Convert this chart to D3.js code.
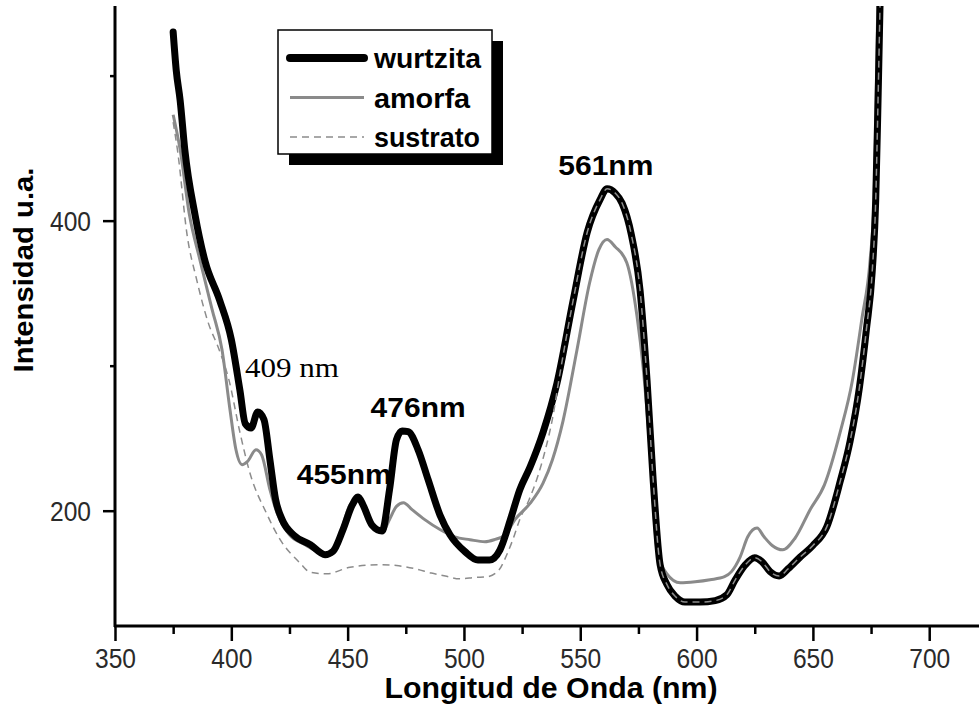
<!DOCTYPE html>
<html>
<head>
<meta charset="utf-8">
<script src="https://cdn.jsdelivr.net/npm/d3@7"></script>
<style>
  html, body { margin: 0; padding: 0; background: #fff; }
  svg { display: block; }
  text { font-family: "Liberation Sans", Arial, sans-serif; }
</style>
</head>
<body>
<svg id="chart" width="979" height="717"></svg>
<script>
// Photoluminescence spectra: wavelength (nm) vs intensity (a.u.)
const wurtzita = [
  [375, 530], [376.3, 504], [378, 483], [380, 449], [384.4, 404], [388.7, 372],
  [395, 345], [400, 318], [403.7, 283], [406, 260], [408.5, 257], [411.3, 268],
  [414, 263], [416.6, 235], [419, 208], [421.8, 194], [427, 183], [434, 176.5],
  [440.3, 169.7], [443.7, 172], [448, 187], [452, 204], [454.5, 209.5], [456.6, 204],
  [460.5, 190], [464.8, 186], [468, 214.5], [471, 249], [473.4, 255], [476, 254.5],
  [480.3, 242], [484.6, 221.4], [489.7, 197], [494, 183.4], [500.5, 171.7], [506, 166],
  [511, 166], [515.5, 173], [520, 194], [524, 214.5], [528.4, 230], [534, 254],
  [540, 288], [547, 345.5], [553, 392], [558.5, 414.5], [561.5, 422], [565, 419],
  [568, 412], [572, 390], [575.7, 352], [578.7, 290], [581.3, 222], [584.3, 163],
  [587.3, 149], [590.8, 141], [595, 137], [601.5, 137], [608, 138], [613, 142],
  [616.5, 152], [621, 162.8], [625, 167.6], [628, 165], [631.6, 158], [635.5, 155],
  [639.4, 160], [644.5, 168], [650, 176], [656, 189], [661.7, 220], [666, 248],
  [670, 285], [673, 325], [675.5, 365], [677, 414], [678, 483], [679, 560], [680, 640]
];

const amorfa = [
  [375, 473], [378, 449], [382, 404], [386.5, 373], [391.7, 339], [396, 311],
  [399.4, 270], [402, 242], [404.6, 231.7], [407, 234], [410.6, 242], [413, 238.6],
  [416.6, 214.5], [420, 197], [425, 183.4], [431.7, 176.5], [438, 171], [441.6, 169],
  [446, 180], [451, 204], [454, 207.6], [457.5, 202], [461, 190], [464.8, 185],
  [468, 194], [471, 203], [474, 205.5], [477.7, 200.7], [483, 194], [489.7, 187],
  [496, 182], [502.6, 180], [509, 178.6], [513, 180], [517.7, 183.4], [522, 194],
  [528.4, 205], [534, 219], [538, 235], [542.6, 262], [548.6, 311], [554, 357],
  [558, 380], [561.5, 387], [565, 382], [570, 371], [574.4, 334], [577, 299],
  [580, 242], [583, 173], [587, 157], [593, 150.3], [599.4, 151], [605.8, 152.4],
  [612, 154.5], [615, 158], [618.7, 168], [622, 182], [626, 188], [629, 182],
  [632.5, 176], [637, 173], [642.3, 181], [648.8, 200.7], [655, 218], [661.7, 254],
  [667, 290], [671, 331.7], [674.6, 373], [676.3, 414.5], [677, 463], [678, 560], [679, 640]
];

const sustrato = [
  [375, 468], [377, 447], [381, 390], [385, 360], [390, 330], [395, 310],
  [399, 290], [403.7, 254], [408, 226], [415, 198.6], [421, 180], [429.5, 164],
  [434, 157.5], [441, 156.5], [451, 161], [464, 162.8], [472, 162], [479, 160],
  [486, 157], [492, 155], [498, 153], [505, 154], [510, 154.5], [515, 159],
  [518.5, 170], [521, 180], [524, 194], [528, 207.6], [532, 225], [535, 242],
  [538, 263], [541, 292], [547, 345.5], [553, 392], [558.5, 414.5], [561.5, 422],
  [565, 419], [568, 412], [572, 390], [575.7, 352], [578.7, 290], [581.3, 222],
  [584.3, 163], [587.3, 149], [590.8, 141], [595, 137], [601.5, 137], [608, 138],
  [613, 142], [616.5, 152], [621, 162.8], [625, 167.6], [628, 165], [631.6, 158],
  [635.5, 155], [639.4, 160], [644.5, 168], [650, 176], [656, 189], [661.7, 220],
  [666, 248], [670, 285], [673, 325], [675.5, 365], [677, 414], [678, 483], [679, 560], [680, 640]
];

const xMajorTicks = [350, 400, 450, 500, 550, 600, 650, 700];
const xMinorTicks = [375, 425, 475, 525, 575, 625, 675];
const yMajorTicks = [200, 400];
const yMinorTicks = [300, 500];

const legendItems = ["wurtzita", "amorfa", "sustrato"];

// Peak annotations: [text, wavelength of the peak]
const peakLabels = [
  ["561nm", 561],
  ["476nm", 476],
  ["455nm", 455]
];

const svg = d3.select("#chart");

const x = d3.scaleLinear().domain([350, 721.4]).range([115, 979]);
const y = d3.scaleLinear().domain([120.5, 548]).range([626, 6]);

svg.append("defs").append("clipPath").attr("id", "plot-clip")
  .append("rect").attr("x", 115).attr("y", 6).attr("width", 864).attr("height", 620);

// Series
const line = d3.line().x(d => x(d[0])).y(d => y(d[1])).curve(d3.curveMonotoneX);
const plot = svg.append("g").attr("clip-path", "url(#plot-clip)");

plot.append("path").datum(amorfa)
  .attr("fill", "none").attr("stroke", "#8a8a8a").attr("stroke-width", 3)
  .attr("stroke-linejoin", "round").attr("d", line);

plot.append("path").datum(wurtzita)
  .attr("fill", "none").attr("stroke", "#000").attr("stroke-width", 7)
  .attr("stroke-linejoin", "round").attr("stroke-linecap", "round").attr("d", line);

plot.append("path").datum(sustrato)
  .attr("fill", "none").attr("stroke", "#8c8c8c").attr("stroke-width", 1.5)
  .attr("stroke-dasharray", "7,5").attr("d", line);

// Axes
const xAxisMajor = d3.axisBottom(x).tickValues(xMajorTicks).tickSize(15).tickSizeOuter(0).tickPadding(6);
const xAxisMinor = d3.axisBottom(x).tickValues(xMinorTicks).tickSize(8).tickSizeOuter(0).tickFormat("");
const yAxisMajor = d3.axisLeft(y).tickValues(yMajorTicks).tickSize(12).tickSizeOuter(0).tickPadding(12);
const yAxisMinor = d3.axisLeft(y).tickValues(yMinorTicks).tickSize(5).tickSizeOuter(0).tickFormat("");

function styleAxis(g) {
  g.select(".domain").remove();
  g.selectAll(".tick line").attr("stroke", "#000").attr("stroke-width", 2.5);
  g.selectAll(".tick text")
    .attr("fill", "#2a2a2a")
    .style("font-family", "'Liberation Sans', Arial, sans-serif")
    .style("font-size", "27px")
    .attr("textLength", 41).attr("lengthAdjust", "spacingAndGlyphs");
}

svg.append("g").attr("transform", "translate(0,626)").call(xAxisMinor).call(styleAxis);
svg.append("g").attr("transform", "translate(0,626)").call(xAxisMajor).call(styleAxis)
  .selectAll(".tick text").attr("dy", "0.76em");
svg.append("g").attr("transform", "translate(115,0)").call(yAxisMinor).call(styleAxis);
svg.append("g").attr("transform", "translate(115,0)").call(yAxisMajor).call(styleAxis)
  .selectAll(".tick text").attr("dy", "0.36em");

// Axis lines
svg.append("line").attr("x1", 115).attr("x2", 115).attr("y1", 6).attr("y2", 627)
  .attr("stroke", "#000").attr("stroke-width", 3);
svg.append("line").attr("x1", 114).attr("x2", 979).attr("y1", 626).attr("y2", 626)
  .attr("stroke", "#000").attr("stroke-width", 3);

// Axis titles
svg.append("text")
  .attr("x", 551).attr("y", 698).attr("text-anchor", "middle")
  .style("font-weight", "bold").style("font-size", "29px")
  .attr("textLength", 333).attr("lengthAdjust", "spacingAndGlyphs")
  .text("Longitud de Onda (nm)");

svg.append("text")
  .attr("transform", "translate(33,270) rotate(-90)")
  .attr("text-anchor", "middle")
  .style("font-weight", "bold").style("font-size", "28px")
  .attr("textLength", 205).attr("lengthAdjust", "spacingAndGlyphs")
  .text("Intensidad u.a.");

// Peak labels
const peakFrom = { "561nm": wurtzita, "476nm": wurtzita, "455nm": wurtzita };
const peakOffsets = { "561nm": [0, -14], "476nm": [10, -15], "455nm": [-15, -13] };
peakLabels.forEach(([label, nm]) => {
  const series = peakFrom[label];
  const pt = series.reduce((a, b) => Math.abs(b[0] - nm) < Math.abs(a[0] - nm) ? b : a);
  const off = peakOffsets[label];
  svg.append("text")
    .attr("x", x(nm) + off[0]).attr("y", y(pt[1]) + off[1])
    .attr("text-anchor", "middle")
    .style("font-weight", "bold").style("font-size", "28px")
    .attr("textLength", 95).attr("lengthAdjust", "spacingAndGlyphs")
    .text(label);
});

svg.append("text")
  .attr("x", 245).attr("y", 377)
  .style("font-family", "'Liberation Serif', 'Times New Roman', serif")
  .style("font-size", "28px")
  .attr("textLength", 94).attr("lengthAdjust", "spacingAndGlyphs")
  .text("409 nm");

// Legend with drop shadow
const legend = svg.append("g").attr("transform", "translate(278,30)");
legend.append("rect").attr("x", 11).attr("y", 11).attr("width", 214).attr("height", 124).attr("fill", "#000");
legend.append("rect").attr("x", 0).attr("y", 0).attr("width", 214).attr("height", 124)
  .attr("fill", "#fff").attr("stroke", "#000").attr("stroke-width", 1.5);

const legendStyles = [
  { stroke: "#000", width: 8, dash: null, cap: "round" },
  { stroke: "#8a8a8a", width: 3, dash: null, cap: "butt" },
  { stroke: "#8c8c8c", width: 1.5, dash: "7,5", cap: "butt" }
];
const legendTextLen = [107, 96, 106];
legendItems.forEach((name, i) => {
  const cy = 28 + i * 39.5;
  const s = legendStyles[i];
  legend.append("line")
    .attr("x1", i === 0 ? 12 : 12).attr("x2", 86).attr("y1", cy).attr("y2", cy)
    .attr("stroke", s.stroke).attr("stroke-width", s.width)
    .attr("stroke-linecap", s.cap).attr("stroke-dasharray", s.dash);
  legend.append("text")
    .attr("x", 96).attr("y", cy + 10)
    .style("font-weight", "bold").style("font-size", "27px")
    .attr("textLength", legendTextLen[i]).attr("lengthAdjust", "spacingAndGlyphs")
    .text(name);
});
</script>
</body>
</html>
